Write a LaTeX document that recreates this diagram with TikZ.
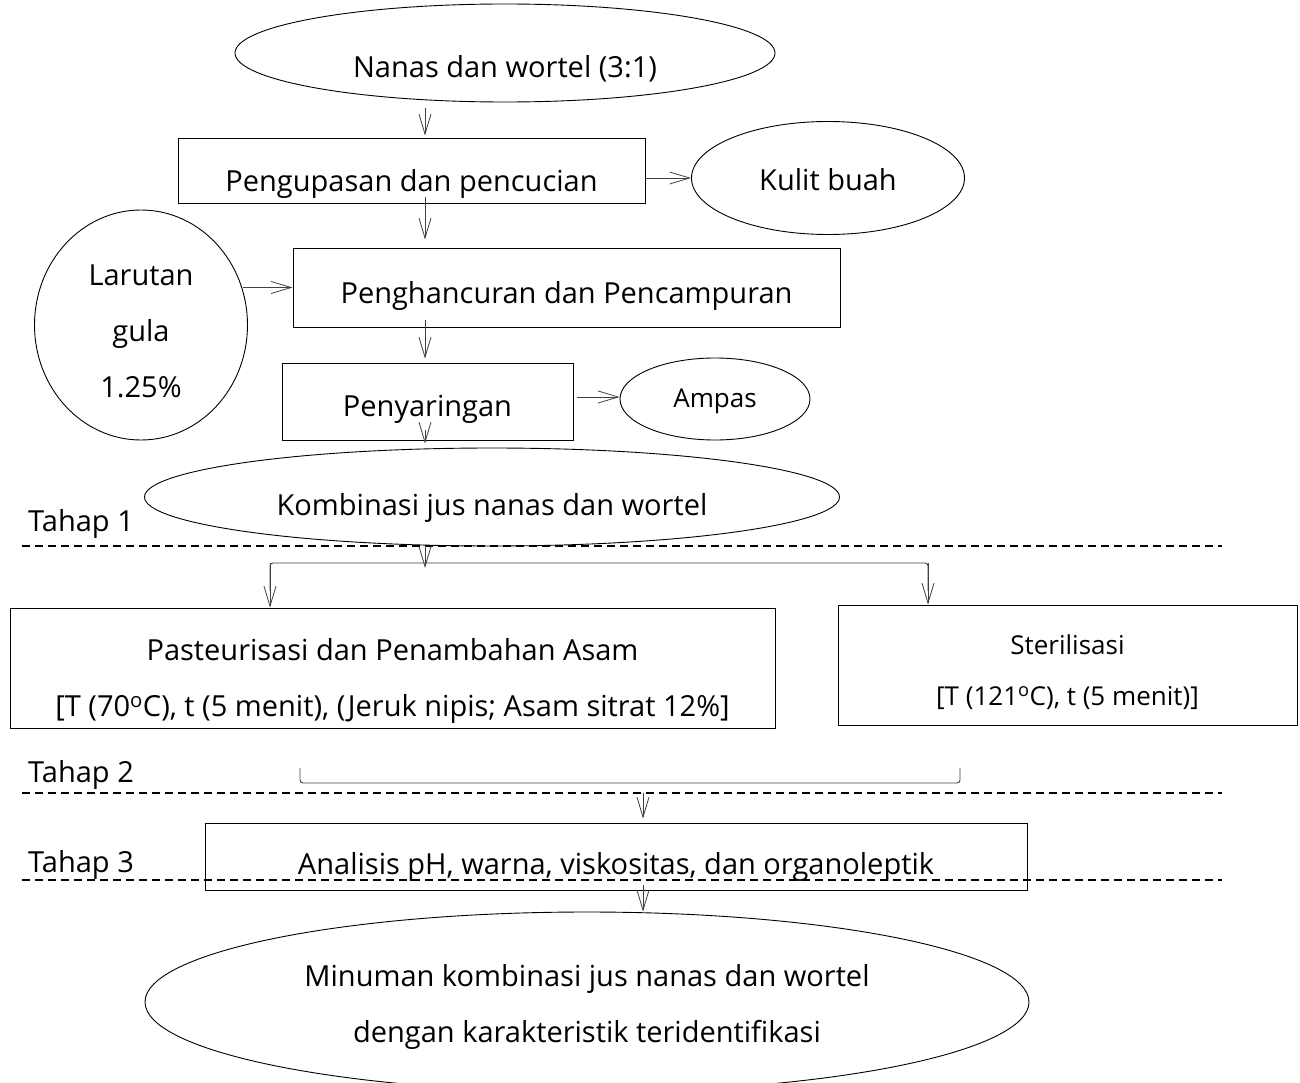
\documentclass[tikz,border=0pt]{standalone}
\usepackage{fontspec}
\setmainfont{Open Sans}
\usetikzlibrary{arrows.meta,shapes.geometric,calc}
\newcommand{\mytxt}[2]{\raisebox{-#1pt}[0pt][0pt]{\begin{tabular}{@{}c@{}}#2\end{tabular}}}
\begin{document}
\begin{tikzpicture}[x=1pt,y=-1pt,
  txt/.style={font=\fontsize{29}{56}\selectfont},
  smalltxt/.style={font=\fontsize{26}{51}\selectfont},
  boxn/.style={draw=black,line width=0.9pt,rectangle,inner sep=0pt,align=center,txt},
  ell/.style={draw=black,line width=0.9pt,ellipse,inner sep=0pt,align=center,txt},
  arr/.style={draw=black!75,line width=0.9pt,-{Straight Barb[length=20pt,width=12pt,line width=0.8pt]}},
  ln/.style={draw=black!75,line width=0.9pt},
  dash line/.style={draw=black,line width=1.6pt,dash pattern=on 8pt off 5pt},
  tahap/.style={txt,anchor=west,inner sep=0pt}]
\useasboundingbox (0,0) rectangle (1300,1083);
% nodes
\node[ell,minimum width=540pt,minimum height=98pt] (top) at (505,53) {\mytxt{20}{Nanas dan wortel (3:1)}};
\node[boxn,minimum width=467pt,minimum height=65pt] (b1) at (411.5,170.5) {\mytxt{16}{Pengupasan dan pencucian}};
\node[ell,minimum width=273pt,minimum height=113pt] (kulit) at (828,178) {\mytxt{8}{Kulit buah}};
\node[ell,minimum width=213pt,minimum height=230pt] (gula) at (141,325) {\mytxt{12}{Larutan\\gula\\1.25\%}};
\node[boxn,minimum width=547pt,minimum height=79pt] (b2) at (566.5,287.5) {\mytxt{11}{Penghancuran dan Pencampuran}};
\node[boxn,minimum width=291pt,minimum height=77pt] (b3) at (427.5,401.5) {\mytxt{10}{Penyaringan}};
\node[ell,smalltxt,minimum width=190pt,minimum height=82pt] (ampas) at (715,399) {\mytxt{5}{Ampas}};
\node[ell,minimum width=695pt,minimum height=98pt] (komb) at (492,497) {\mytxt{14}{Kombinasi jus nanas dan wortel}};
\node[boxn,minimum width=765pt,minimum height=120pt] (past) at (392.5,668)
  {\mytxt{16}{Pasteurisasi dan Penambahan Asam\\{}[T (70\textsuperscript{o}C), t (5 menit), (Jeruk nipis; Asam sitrat 12\%]}};
\node[boxn,smalltxt,minimum width=459pt,minimum height=120pt] (ster) at (1067.5,665)
  {\mytxt{11}{Sterilisasi\\{}[T (121\textsuperscript{o}C), t (5 menit)]}};
\node[boxn,minimum width=822pt,minimum height=67pt] (anal) at (616,856.5) {\mytxt{13}{Analisis pH, warna, viskositas, dan organoleptik}};
\node[ell,minimum width=884pt,minimum height=180pt] (fin) at (587,1002)
  {\mytxt{8}{Minuman kombinasi jus nanas dan wortel\\dengan karakteristik teridentifikasi}};
\node[tahap] (t1) at (28,524) {Tahap 1};
\node[tahap] (t2) at (28,775) {Tahap 2};
\node[tahap] (t3) at (28,865) {Tahap 3};
% coordinates
\coordinate (cx) at (425,0);
\coordinate (bl) at (270,563);
\coordinate (bm) at (425,563);
\coordinate (br) at (928,563);
\coordinate (ql) at (300,768);
\coordinate (qr) at (960,768);
\coordinate (qm) at (643,783);
\coordinate (ay) at (0,397);
\coordinate (d1a) at (22,546); \coordinate (d1b) at (1222,546);
\coordinate (d2a) at (22,793); \coordinate (d2b) at (1222,793);
\coordinate (d3a) at (22,880); \coordinate (d3b) at (1222,880);
% dashed lines
\draw[dash line] (d1a) -- (d1b);
\draw[dash line] (d2a) -- (d2b);
\draw[dash line] (d3a) -- (d3b);
% arrows
\draw[arr,shorten <=6pt,shorten >=2pt] (top.south -| cx) -- (b1.north -| cx);
\draw[arr] (kulit.west -| b1.east) -- (kulit.west);
\draw[arr,shorten <=-6pt,shorten >=8pt] (b1.south -| cx) -- (b2.north -| cx);
\draw[arr,shorten <=-5pt] (b2.west -| gula.east) -- (b2.west);
\draw[arr,shorten <=-7pt,shorten >=4pt] (b2.south -| cx) -- (b3.north -| cx);
\draw[arr,shorten <=4pt] (b3.east |- ay) -- (ampas.west |- ay);
\draw[arr,shorten <=-10pt,shorten >=4pt] (b3.south -| cx) -- (komb.north -| cx);
\draw[arr,shorten >=-5pt] (komb.south -| cx) -- (bm);
\draw[ln,rounded corners=3pt] ($(bl)+(0,28)$) -- (bl) -- (br) -- ($(br)+(0,28)$);
\draw[arr] (bl) -- (past.north -| bl);
\draw[arr] (br) -- (ster.north -| br);
\draw[ln,rounded corners=3pt] (ql) -- (ql |- qm) -- (qr |- qm) -- (qr);
\draw[arr,shorten <=10pt,shorten >=4pt] (qm) -- (anal.north -| qm);
\draw[arr,shorten <=-5pt] (anal.south -| qm) -- (fin.north -| qm);
\end{tikzpicture}
\end{document}
